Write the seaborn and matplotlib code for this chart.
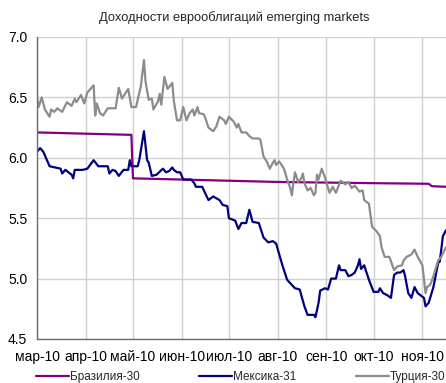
import matplotlib
matplotlib.use("Agg")
import matplotlib.pyplot as plt
import matplotlib.ticker as mticker
import pandas as pd
import seaborn as sns

YEAR = 2010
title = "Доходности еврооблигаций emerging markets"

month_ticks = ["03-01", "04-01", "05-01", "06-01", "07-01",
               "08-01", "09-01", "10-01", "11-01"]
month_labels = ["мар-10", "апр-10", "май-10", "июн-10", "июл-10",
                "авг-10", "сен-10", "окт-10", "ноя-10"]
x_start, x_end = "03-01", "11-16"
y_ticks = [4.5, 5.0, 5.5, 6.0, 6.5, 7.0]

series_names = ["Бразилия-30", "Мексика-31", "Турция-30"]
series_colors = ["#800080", "#000080", "#8c8c8c"]

# Brazil 2030 eurobond yield, %
brazil_dates = ["03-01", "04-30", "05-01", "06-01", "08-01", "10-01",
                "11-05", "11-07", "11-16"]
brazil_yield = [6.21, 6.19, 5.83, 5.82, 5.80, 5.79, 5.785, 5.765, 5.76]

# Mexico 2031 eurobond yield, %
mexico_dates = [
    "03-01", "03-03", "03-05", "03-09", "03-16", "03-17", "03-19", "03-23",
    "03-24", "03-25", "03-30",
    "04-02", "04-06", "04-09", "04-15", "04-16", "04-18", "04-20", "04-22",
    "04-25", "04-28", "04-29", "04-30",
    "05-04", "05-05", "05-08", "05-10", "05-11", "05-13", "05-16", "05-20",
    "05-22", "05-24", "05-26", "05-27", "05-29", "05-31",
    "06-02", "06-07", "06-09", "06-10", "06-14", "06-18", "06-21", "06-25",
    "06-27", "06-30",
    "07-01", "07-05", "07-07", "07-09", "07-12", "07-14", "07-16", "07-20",
    "07-23", "07-26", "07-29", "07-31",
    "08-02", "08-04", "08-05", "08-07", "08-12", "08-15", "08-18", "08-20",
    "08-24", "08-25", "08-27", "08-28", "08-31",
    "09-02", "09-04", "09-07", "09-09", "09-10", "09-13", "09-15", "09-17",
    "09-19", "09-21", "09-22", "09-23", "09-25", "09-28",
    "10-01", "10-04", "10-05", "10-07", "10-10", "10-12", "10-14", "10-16",
    "10-18", "10-20", "10-21", "10-23", "10-25", "10-27", "10-29",
    "11-02", "11-03", "11-05", "11-08", "11-11", "11-12", "11-13", "11-14",
    "11-16",
]
mexico_yield = [
    6.05, 6.08, 6.05, 5.93, 5.91, 5.87, 5.90, 5.86, 5.83, 5.90, 5.90,
    5.91, 5.98, 5.93, 5.93, 5.87, 5.90, 5.89, 5.85, 5.90, 5.90, 5.98, 5.93,
    5.93, 5.98, 6.22, 5.98, 5.96, 5.85, 5.86, 5.91, 5.88, 5.89, 5.92, 5.90,
    5.88, 5.88,
    5.82, 5.82, 5.79, 5.76, 5.76, 5.65, 5.68, 5.65, 5.61, 5.60,
    5.50, 5.48, 5.41, 5.46, 5.46, 5.57, 5.47, 5.46, 5.34, 5.30, 5.31, 5.29,
    5.20, 5.11, 5.07, 4.99, 4.92, 4.91, 4.77, 4.70, 4.70, 4.68, 4.80, 4.90,
    4.92,
    4.91, 5.00, 5.00, 5.11, 5.07, 5.07, 5.02, 5.03, 5.05, 5.11, 5.16, 5.08,
    5.11, 4.99,
    4.89, 4.89, 4.92, 4.88, 4.86, 4.84, 5.03, 5.05, 5.05, 5.07, 5.02, 4.88,
    4.84, 4.93, 4.88,
    4.84, 4.77, 4.80, 4.93, 5.13, 5.14, 5.24, 5.35, 5.40,
]

# Turkey 2030 eurobond yield, %
turkey_dates = [
    "03-01", "03-02", "03-04", "03-06", "03-09", "03-10", "03-12", "03-14",
    "03-17", "03-20", "03-23", "03-25", "03-26", "03-29", "03-31",
    "04-02", "04-06", "04-07", "04-08", "04-10", "04-12", "04-15", "04-20",
    "04-22", "04-24", "04-28", "04-30",
    "05-03", "05-04", "05-06", "05-08", "05-09", "05-11", "05-13", "05-14",
    "05-17", "05-18", "05-19", "05-21", "05-23", "05-26", "05-27", "05-29",
    "05-31",
    "06-02", "06-04", "06-06", "06-08", "06-09", "06-11", "06-12", "06-15",
    "06-16", "06-18", "06-21", "06-23", "06-25", "06-28", "06-29",
    "07-01", "07-04", "07-06", "07-07", "07-09", "07-12", "07-14", "07-16",
    "07-20", "07-21", "07-23", "07-25", "07-27", "07-29", "07-30", "07-31",
    "08-02", "08-05", "08-07", "08-09", "08-10", "08-11", "08-12", "08-14",
    "08-16", "08-17", "08-18", "08-20", "08-22", "08-24", "08-25", "08-26",
    "08-27", "08-29", "08-31",
    "09-02", "09-03", "09-05", "09-07", "09-10", "09-13", "09-15", "09-17",
    "09-19", "09-22", "09-24", "09-25", "09-28", "09-30",
    "10-03", "10-05", "10-06", "10-08", "10-11", "10-14", "10-16", "10-19",
    "10-20", "10-22", "10-25", "10-27", "10-29",
    "11-01", "11-03", "11-04", "11-06", "11-08", "11-11", "11-13", "11-16",
]
turkey_yield = [
    6.50, 6.42, 6.50, 6.40, 6.34, 6.40, 6.38, 6.41, 6.38, 6.46, 6.43, 6.49,
    6.46, 6.52, 6.45,
    6.54, 6.60, 6.35, 6.45, 6.37, 6.35, 6.41, 6.41, 6.58, 6.49, 6.57, 6.42,
    6.42, 6.48, 6.59, 6.81, 6.63, 6.48, 6.49, 6.40, 6.47, 6.53, 6.44, 6.67,
    6.57, 6.62, 6.47, 6.31, 6.31,
    6.42, 6.31, 6.37, 6.40, 6.35, 6.42, 6.37, 6.36, 6.33, 6.25, 6.22, 6.26,
    6.34, 6.31, 6.28,
    6.34, 6.30, 6.25, 6.28, 6.21, 6.21, 6.18, 6.16, 6.16, 6.15, 6.01, 5.97,
    5.91, 5.96, 5.98, 5.94,
    5.97, 5.91, 5.82, 5.75, 5.69, 5.79, 5.88, 5.80, 5.83, 5.87, 5.79, 5.73,
    5.75, 5.69, 5.71, 5.86, 5.82, 5.91, 5.84,
    5.75, 5.71, 5.76, 5.71, 5.81, 5.78, 5.80, 5.75, 5.77, 5.72, 5.73, 5.65,
    5.62, 5.43,
    5.39, 5.35, 5.26, 5.18, 5.18, 5.07, 5.10, 5.11, 5.15, 5.18, 5.20, 5.24,
    5.18,
    5.11, 4.88, 4.93, 4.95, 5.02, 5.15, 5.18, 5.26,
]


def to_dates(month_days):
    return pd.to_datetime([f"{YEAR}-{md}" for md in month_days])


frames = []
for name, dates, values in zip(series_names,
                               [brazil_dates, mexico_dates, turkey_dates],
                               [brazil_yield, mexico_yield, turkey_yield]):
    frames.append(pd.DataFrame({"date": to_dates(dates),
                                "yield": values, "series": name}))
data = pd.concat(frames, ignore_index=True)

sns.set_theme(style="white")
plt.rcParams["font.family"] = ["Liberation Sans", "DejaVu Sans"]

W, H = 446, 383
fig = plt.figure(figsize=(W / 100, H / 100), dpi=100)
ax = fig.add_axes([37 / W, 1 - 339 / H, 1 - 37 / W, (339 - 37) / H])

for name, color in zip(series_names, series_colors):
    sns.lineplot(data=data[data["series"] == name], x="date", y="yield",
                 color=color, linewidth=1.6, label=name, ax=ax,
                 estimator=None, sort=True)

xs, xe = to_dates([x_start, x_end])
ax.set_xlim(xs, xe)
ax.set_ylim(y_ticks[0], y_ticks[-1])
ax.set_xticks(to_dates(month_ticks))
ax.set_xticklabels(month_labels)
ax.set_yticks(y_ticks)
ax.yaxis.set_major_formatter(mticker.FormatStrFormatter("%.1f"))
ax.set_xlabel("")
ax.set_ylabel("")

ax.grid(True, color="#d0d0d0", linewidth=1.0)
ax.set_axisbelow(True)
for side in ["top", "right"]:
    ax.spines[side].set_visible(False)
for side in ["left", "bottom"]:
    ax.spines[side].set_color("#6e6e6e")
    ax.spines[side].set_linewidth(1.0)
ax.tick_params(axis="both", length=0, labelsize=10, colors="#000000")
ax.tick_params(axis="y", pad=7)
ax.tick_params(axis="x", pad=8)

handles, labels = ax.get_legend_handles_labels()
ax.legend(handles, labels, ncol=3, loc="center left",
          bbox_to_anchor=(36 / W, 1 - 377 / H), bbox_transform=fig.transFigure,
          frameon=False, fontsize=8.5, handlelength=2.8, handletextpad=0.1,
          columnspacing=5.0, borderpad=0, borderaxespad=0)

fig.text(234 / W, 1 - 18 / H, title, ha="center", va="center", fontsize=9.3)

fig.savefig("out.png", dpi=100)
